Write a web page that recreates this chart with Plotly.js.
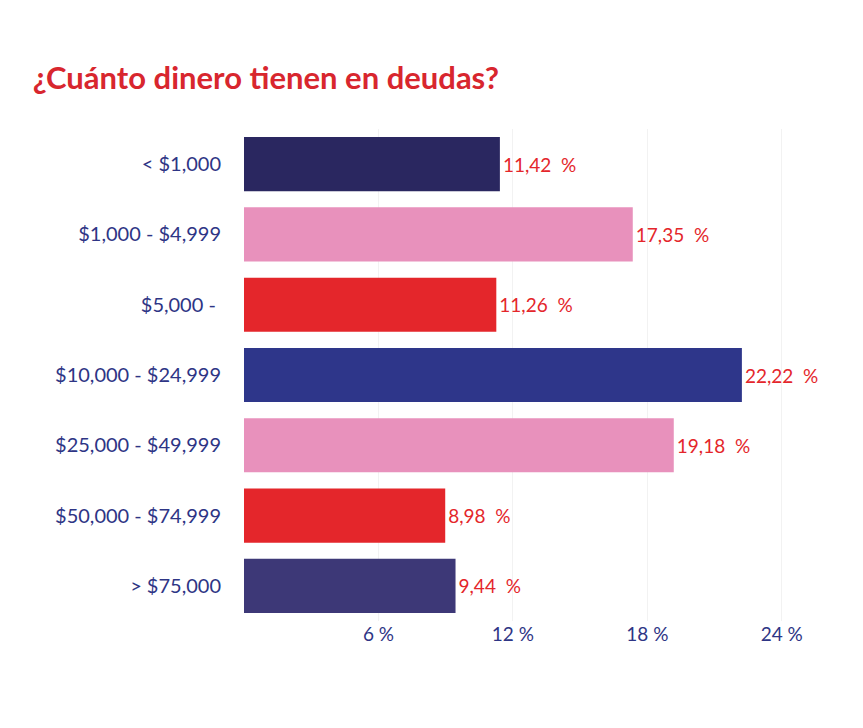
<!DOCTYPE html>
<html>
<head>
<meta charset="utf-8">
<script src="https://cdn.plot.ly/plotly-3.0.1.min.js"></script>
<style>body{margin:0;background:#fff}</style>
</head>
<body>
<div id="chart" style="width:863px;height:728px"></div>
<script>
var categories = ['< $1,000', '$1,000 - $4,999', '$5,000 - ', '$10,000 - $24,999',
  '$25,000 - $49,999', '$50,000 - $74,999', '> $75,000'];
var values = [11.42, 17.35, 11.26, 22.22, 19.18, 8.98, 9.44];
var colors = ['#2a2760', '#e891bc', '#e4262b', '#2e368a', '#e891bc', '#e4262b', '#3d3877'];
var tickVals = [6, 12, 18, 24];
var tickText = ['6 %', '12 %', '18 %', '24 %'];

var labels = values.map(function (v) { return v.toFixed(2).replace('.', ',') + '\u00a0\u00a0%'; });

var trace = {
  type: 'bar',
  orientation: 'h',
  y: categories,
  x: values,
  marker: {color: colors},
  width: 0.77,
  text: labels,
  textposition: 'outside',
  textfont: {color: '#e4262b', size: 19, family: 'Lato'},
  cliponaxis: false,
  hoverinfo: 'none'
};

var layout = {
  width: 863,
  height: 728,
  margin: {l: 244, r: 14, t: 129, b: 107},
  paper_bgcolor: '#fff',
  plot_bgcolor: '#fff',
  showlegend: false,
  font: {family: 'Lato', color: '#2e3585'},
  title: {
    text: '¿Cuánto dinero tienen en deudas?',
    x: 0.038, xanchor: 'left', y: 0.893, yanchor: 'middle',
    font: {size: 31, color: '#d8262e', family: 'Lato', weight: 'bold'}
  },
  xaxis: {
    range: [0, 27],
    tickvals: tickVals,
    ticktext: tickText,
    showgrid: true,
    gridcolor: '#f2f2f2',
    zeroline: false,
    showline: false,
    ticks: '',
    ticklen: 0,
    tickfont: {size: 19, color: '#2e3585'}
  },
  yaxis: {
    autorange: 'reversed',
    showgrid: false,
    zeroline: false,
    ticks: 'outside',
    ticklen: 18,
    tickcolor: 'rgba(0,0,0,0)',
    tickfont: {size: 20, color: '#2e3585'}
  }
};

Plotly.newPlot('chart', [trace], layout, {displayModeBar: false, staticPlot: true});
</script>
</body>
</html>
